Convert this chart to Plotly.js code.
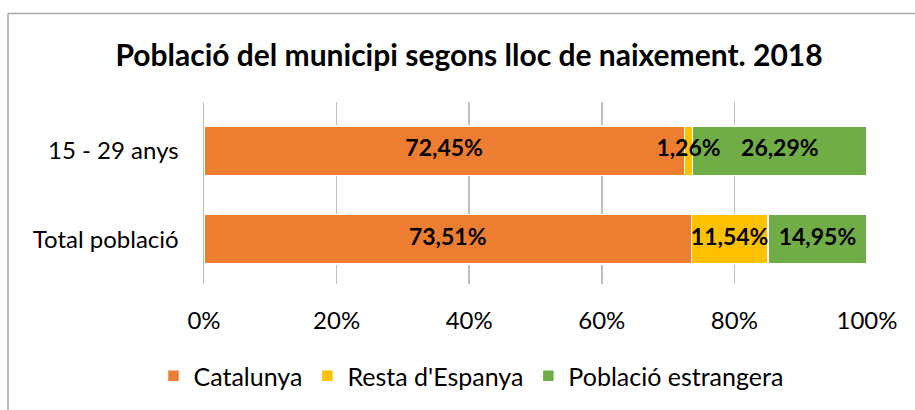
<!DOCTYPE html>
<html><head><meta charset="utf-8">
<script src="https://cdn.plot.ly/plotly-3.0.1.min.js"></script>
<style>html,body{margin:0;padding:0;background:#fff;}#chart{width:915px;height:410px;}</style>
</head><body><div id="chart"></div>
<script>
const categories = ["15 - 29 anys", "Total població"];
const catalunya = [72.45, 73.51];
const restaEspanya = [1.26, 11.54];
const estrangera = [26.29, 14.95];
const seriesNames = ["Catalunya", "Resta d'Espanya", "Població estrangera"];
const seriesColors = ["#ED7D31", "#FFC000", "#70AD47"];
const xTickVals = [0, 20, 40, 60, 80, 100];
const xTickText = ["0%", "20%", "40%", "60%", "80%", "100%"];
const titleText = "Població del municipi segons lloc de naixement. 2018";

const FONT = "Lato, 'Open Sans', sans-serif";
const fmt = v => v.toFixed(2).replace('.', ',') + '%';
const vals = [catalunya, restaEspanya, estrangera];
const traces = vals.map((v, i) => ({
  type: 'bar', orientation: 'h', y: categories, x: v, name: seriesNames[i],
  marker: {color: seriesColors[i], line: {color: '#ffffff', width: 1.5}},
  textposition: 'none', hoverinfo: 'skip'
}));
// data labels at segment centres, derived from the data
const labX = [], labY = [], labT = [];
categories.forEach((c, j) => {
  let cum = 0;
  vals.forEach(v => {
    labX.push(cum + v[j] / 2); labY.push(c); labT.push(fmt(v[j]));
    cum += v[j];
  });
});
traces.push({
  type: 'scatter', mode: 'text', x: labX, y: labY, text: labT,
  textposition: 'middle center', showlegend: false, cliponaxis: false,
  textfont: {family: FONT, size: 23, color: '#000', weight: 'bold'}, hoverinfo: 'skip'
});

const L = 204, R = 867, T = 102, B = 285;
const px = x => (x - L) / (R - L);
const py = y => (B - y) / (B - T);

const layout = {
  width: 915, height: 410,
  margin: {l: L, r: 915 - R, t: T, b: 410 - B},
  paper_bgcolor: '#fff', plot_bgcolor: '#fff',
  barmode: 'stack', bargap: 0.44,
  font: {family: FONT, size: 24, color: '#000'},
  title: {text: titleText, font: {family: FONT, size: 30, weight: 'bold', color: '#000'},
          x: px(469), xref: 'paper', xanchor: 'center', y: 1 - 55/410, yanchor: 'middle'},
  xaxis: {range: [0, 100], tickvals: xTickVals, ticktext: xTickText,
          showgrid: true, gridcolor: '#bfbfbf', gridwidth: 1.5, zeroline: false,
          showline: false, ticks: '', ticklabelstandoff: 20,
          tickfont: {family: FONT, size: 24, color: '#000'}, fixedrange: true},
  yaxis: {range: [1.506, -0.55], showgrid: false, zeroline: false,
          showline: true, linecolor: '#bfbfbf', linewidth: 1.5, ticks: '',
          ticklabelstandoff: 19, tickfont: {family: FONT, size: 24, color: '#000'},
          fixedrange: true},
  showlegend: true,
  legend: {orientation: 'h', x: px(471), xanchor: 'center', y: py(376), yanchor: 'middle',
           font: {family: FONT, size: 25, color: '#000'}, traceorder: 'normal',
           itemwidth: 30, tracegroupgap: 0},
  shapes: [
    {type: 'line', xref: 'paper', yref: 'paper', x0: px(8), x1: px(920), y0: py(13), y1: py(13),
     line: {color: '#a6a6a6', width: 1.5}},
    {type: 'line', xref: 'paper', yref: 'paper', x0: px(8), x1: px(8), y0: py(13), y1: py(415),
     line: {color: '#a6a6a6', width: 1.5}}
  ]
};
Plotly.newPlot('chart', traces, layout, {staticPlot: true, displayModeBar: false});
</script></body></html>
